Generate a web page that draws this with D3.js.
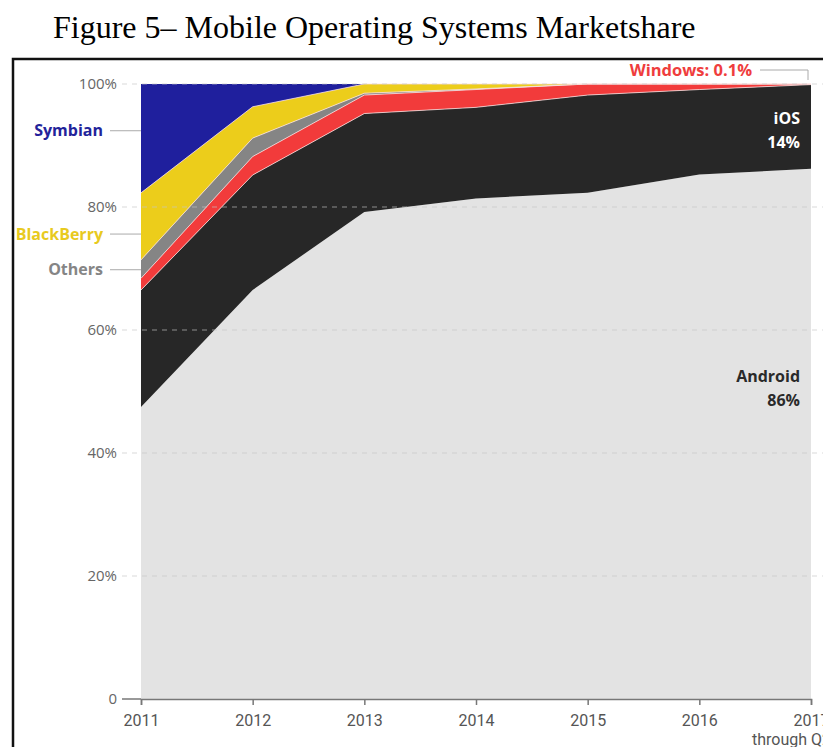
<!DOCTYPE html>
<html>
<head>
<meta charset="utf-8">
<title>Mobile Operating Systems Marketshare</title>
<script src="https://d3js.org/d3.v7.min.js"></script>
<style>
    body { margin: 0; background: #fff; }
    svg { display: block; }
    .lbl { font-family: "Open Sans", sans-serif; font-weight: 700; }
    .ytick { font-family: "Open Sans", sans-serif; font-size: 15px; fill: #666; }
    .xtick { font-family: "Liberation Sans Narrow", "Roboto", sans-serif; font-size: 16px; fill: #555; }
</style>
</head>
<body>
<div id="chart"></div>
<script>
    // share of each OS, % of smartphone sales per year
    var years = [2011, 2012, 2013, 2014, 2015, 2016, 2017];
    var android = [47.5, 66.5, 79.2, 81.4, 82.3, 85.3, 86.2];
    var ios = [19.0, 18.7, 16.0, 14.8, 15.9, 13.8, 13.7];
    var windows = [1.9, 3.0, 3.0, 2.9, 1.8, 0.9, 0.1];
    var others = [3.0, 3.0, 0.3, 0.1, 0, 0, 0];
    var blackberry = [10.9, 5.1, 1.5, 0.8, 0, 0, 0];
    var symbian = [17.7, 3.7, 0, 0, 0, 0, 0];
    var yTicks = [0, 20, 40, 60, 80, 100];

    var keys = ['Android', 'iOS', 'Windows', 'Others', 'BlackBerry', 'Symbian'];
    var colors = {
        Android: '#e3e3e3',
        iOS: '#272727',
        Windows: '#f23b3b',
        Others: '#858585',
        BlackBerry: '#eccd1b',
        Symbian: '#1f1f9d'
    };

    var rows = years.map(function (y, i) {
        return {
            year: y, Android: android[i], iOS: ios[i], Windows: windows[i],
            Others: others[i], BlackBerry: blackberry[i], Symbian: symbian[i]
        };
    });

    var width = 823, height = 747;

    var svg = d3.select('#chart').append('svg')
        .attr('width', width)
        .attr('height', height);

    var x = d3.scaleLinear().domain([2011, 2017]).range([141, 811]);
    var y = d3.scaleLinear().domain([0, 100]).range([699, 84]);

    // title
    svg.append('text')
        .attr('x', 53)
        .attr('y', 38)
        .attr('font-family', '"Liberation Serif", "Times New Roman", serif')
        .attr('font-size', 32)
        .attr('fill', '#000')
        .text('Figure 5\u2013 Mobile Operating Systems Marketshare');

    // frame
    svg.append('rect')
        .attr('x', 13)
        .attr('y', 59)
        .attr('width', 900)
        .attr('height', 800)
        .attr('fill', 'none')
        .attr('stroke', '#111')
        .attr('stroke-width', 2.5);

    var stacked = d3.stack().keys(keys)(rows);

    var area = d3.area()
        .x(function (d) { return x(d.data.year); })
        .y0(function (d) { return y(d[0]); })
        .y1(function (d) { return y(d[1]); });

    svg.append('g').selectAll('path')
        .data(stacked)
        .enter()
        .append('path')
        .attr('d', area)
        .attr('fill', function (d) { return colors[d.key]; });

    // thin light edges between the layers
    var edge = d3.line()
        .x(function (d) { return x(d.data.year); })
        .y(function (d) { return y(d[1]); });

    svg.append('g').selectAll('path')
        .data(stacked.filter(function (d) {
            return d.key != 'Android' && d.key != 'Symbian';
        }))
        .enter()
        .append('path')
        .attr('d', edge)
        .attr('fill', 'none')
        .attr('stroke', '#fbe0e0')
        .attr('stroke-opacity', 0.75)
        .attr('stroke-width', 1);

    // gridlines
    svg.append('g').selectAll('line')
        .data(yTicks.filter(function (t) { return t > 0; }))
        .enter()
        .append('line')
        .attr('x1', 122)
        .attr('x2', width)
        .attr('y1', function (d) { return y(d); })
        .attr('y2', function (d) { return y(d); })
        .attr('stroke', '#c4c4c4')
        .attr('stroke-opacity', 0.65)
        .attr('stroke-dasharray', '5,5');

    // y axis labels
    svg.append('g').selectAll('text')
        .data(yTicks)
        .enter()
        .append('text')
        .attr('class', 'ytick')
        .attr('x', 117)
        .attr('y', function (d) { return y(d) + 5; })
        .attr('text-anchor', 'end')
        .text(function (d) { return d == 0 ? '0' : d + '%'; });

    svg.append('line')
        .attr('x1', 122).attr('x2', 141)
        .attr('y1', y(0)).attr('y2', y(0))
        .attr('stroke', '#777').attr('stroke-width', 1.5);

    // x axis
    var xAxis = d3.axisBottom(x)
        .tickValues(years)
        .tickFormat(d3.format('d'))
        .tickSize(6)
        .tickPadding(10);

    var gX = svg.append('g')
        .attr('transform', 'translate(0,' + y(0) + ')')
        .call(xAxis);
    gX.select('.domain').attr('stroke', '#777').attr('stroke-width', 1.5);
    gX.selectAll('.tick line').attr('stroke', '#777').attr('stroke-width', 1.5);
    gX.selectAll('.tick text')
        .attr('class', 'xtick')
        .attr('font-family', null)
        .attr('font-size', null)
        .attr('fill', '#555');

    svg.append('text')
        .attr('class', 'xtick')
        .attr('x', 752)
        .attr('y', 745)
        .text('through Q2');

    // labels on the left
    var leftLabels = [
        { name: 'Symbian', at: 92.4, color: '#23239a' },
        { name: 'BlackBerry', at: 75.6, color: '#e8ca1e' },
        { name: 'Others', at: 69.8, color: '#858585' }
    ];

    leftLabels.forEach(function (l) {
        svg.append('text')
            .attr('class', 'lbl')
            .attr('x', 103)
            .attr('y', y(l.at) + 5.5)
            .attr('text-anchor', 'end')
            .attr('font-size', 16)
            .attr('fill', l.color)
            .text(l.name);
        svg.append('line')
            .attr('x1', 110).attr('x2', 141)
            .attr('y1', y(l.at)).attr('y2', y(l.at))
            .attr('stroke', '#aaa');
    });

    // Windows callout
    svg.append('text')
        .attr('class', 'lbl')
        .attr('x', 752)
        .attr('y', 76)
        .attr('text-anchor', 'end')
        .attr('font-size', 16.5)
        .attr('fill', '#ef3d3d')
        .text('Windows: 0.1%');

    svg.append('path')
        .attr('d', 'M760,70H808V80')
        .attr('fill', 'none')
        .attr('stroke', '#aaa');

    // iOS and Android labels
    var rightLabels = [
        { text: 'iOS', yy: 124, color: '#fff' },
        { text: '14%', yy: 148, color: '#fff' },
        { text: 'Android', yy: 382, color: '#2a2a2a' },
        { text: '86%', yy: 406, color: '#2a2a2a' }
    ];

    svg.append('g').selectAll('text')
        .data(rightLabels)
        .enter()
        .append('text')
        .attr('class', 'lbl')
        .attr('x', 800)
        .attr('y', function (d) { return d.yy; })
        .attr('text-anchor', 'end')
        .attr('font-size', 16)
        .attr('fill', function (d) { return d.color; })
        .text(function (d) { return d.text; });
</script>
</body>
</html>
